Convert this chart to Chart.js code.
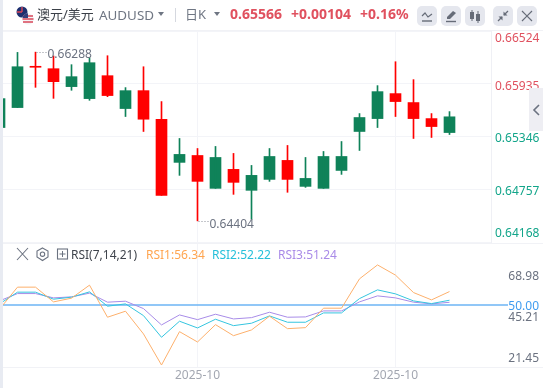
<!DOCTYPE html>
<html lang="zh">
<head>
    <meta charset="UTF-8">
    <title>AUDUSD</title>
    <script src="https://cdn.jsdelivr.net/npm/chart.js@4"></script>
    <style>
        html, body { margin: 0; padding: 0; background: #fff; overflow: hidden; }
        body { width: 543px; height: 388px; position: relative; font-family: "Noto Sans", "Noto Sans CJK SC", sans-serif; }
        canvas { position: absolute; left: 0; }
        .strip { position: absolute; left: 0; top: 0; width: 3px; height: 388px; background: #e8ebf2; z-index: 3; }
        .rule { position: absolute; left: 3px; right: 0; height: 1px; background: #f1f2f6; }
        .txt { position: absolute; white-space: nowrap; line-height: 16px; }
        .btn { position: absolute; top: 6px; width: 20px; height: 20px; border-radius: 5px; background: #e5e7ee; }
        .tab { position: absolute; left: 529px; top: 88px; width: 14px; height: 43px; background: #eeeef3; }
    </style>
</head>
<body>
<canvas id="kline" width="543" height="243" style="top:0;width:543px;height:243px"></canvas>
<canvas id="rsi" width="543" height="145" style="top:243px;width:543px;height:145px"></canvas>
<div class="strip"></div>
<div class="rule" style="top:30px"></div>
<div class="rule" style="top:243px"></div>
<div class="rule" style="top:367px"></div>
<div class="tab"></div>
<svg style="position:absolute;left:532px;top:103px" width="9" height="14"><path d="M7 2 L2 7 L7 12" fill="none" stroke="#6b7280" stroke-width="1.6"/></svg>

<svg style="position:absolute;left:15px;top:5px" width="20" height="20" viewBox="0 0 20 20">
    <circle cx="7" cy="7" r="5.5" fill="#1d2f6f"/>
    <path d="M2 7 L7 7 M7 2 L7 7" stroke="#d9475a" stroke-width="1.4"/>
    <circle cx="13" cy="14" r="5.8" fill="#f4f4f6"/>
    <path d="M8 11 H18 M7.5 14 H18.5 M8 17 H18" stroke="#d9475a" stroke-width="1.5"/>
    <path d="M7.5 13 A5.8 5.8 0 0 1 13 8.2 V13 Z" fill="#34407c"/>
</svg>
<div class="txt" style="left:37px;top:6px;font-size:13px;color:#3b4048">澳元/美元</div>
<div class="txt" style="left:99px;top:7px;font-size:13.4px;color:#6f7683">AUDUSD</div>
<svg style="position:absolute;left:158px;top:12px" width="7" height="5"><path d="M0 0 H6 L3 4 Z" fill="#6f7683"/></svg>
<div style="position:absolute;left:175px;top:8px;width:1px;height:14px;background:#d5d8df"></div>
<div class="txt" style="left:185px;top:6px;font-size:13px;color:#6f7683">日K</div>
<svg style="position:absolute;left:214px;top:12px" width="7" height="5"><path d="M0 0 H6 L3 4 Z" fill="#6f7683"/></svg>
<div class="txt" style="left:230px;top:6px;font-size:14px;font-weight:700;color:#e0515f">0.65566</div>
<div class="txt" style="left:291px;top:6px;font-size:14px;font-weight:700;color:#e0515f">+0.00104</div>
<div class="txt" style="left:360px;top:6px;font-size:14px;font-weight:700;color:#e0515f">+0.16%</div>

<div class="btn" style="left:417px"><svg width="20" height="20"><path d="M5 10 L8 7 L11 11 L15 8" fill="none" stroke="#666c78" stroke-width="1.2"/><path d="M5 15 H15" stroke="#666c78" stroke-width="1.4"/></svg></div>
<div class="btn" style="left:441px"><svg width="20" height="20"><path d="M6 13 L6 11 L12 5 L15 7 L9 13 Z" fill="#666c78"/><path d="M5 15.5 H15" stroke="#666c78" stroke-width="1.4"/></svg></div>
<div class="btn" style="left:465px"><svg width="20" height="20"><rect x="5" y="6" width="4" height="7" fill="#666c78"/><path d="M7 4 V15 M13 5 V17" stroke="#666c78"/><rect x="11" y="8" width="4" height="7" fill="#666c78"/></svg></div>
<div class="btn" style="left:493px"><svg width="20" height="20"><path d="M15 5 L11 9 M5 15 L9 11" stroke="#666c78" stroke-width="1.3"/><path d="M10.5 5.5 V9.5 H14.5 Z M9.5 14.5 V10.5 H5.5 Z" fill="#666c78"/></svg></div>
<div class="btn" style="left:517px"><svg width="20" height="20"><path d="M5 5 L15 15 M15 5 L5 15" stroke="#666c78" stroke-width="1.2"/></svg></div>

<svg style="position:absolute;left:16px;top:247px" width="54" height="15" fill="none" stroke="#6b7280">
    <path d="M1 1 L12 13 M12 1 L1 13" stroke-width="1.1"/>
    <path d="M26.5 1 L32 4 V10 L26.5 13.5 L21 10 V4 Z" stroke-width="1.1"/>
    <circle cx="26.5" cy="7.2" r="2.2" stroke-width="1.1"/>
    <rect x="41.5" y="2" width="10" height="10" stroke-width="1.1"/>
    <path d="M46.5 4 V10 M43.5 7 H49.5"/>
</svg>
<div class="txt" style="left:71px;top:247px;font-size:12px;color:#3f444c">RSI(7,14,21)</div>
<div class="txt" style="left:146px;top:247px;font-size:12px;color:#ffa550">RSI1:56.34</div>
<div class="txt" style="left:212px;top:247px;font-size:12px;color:#26c0da">RSI2:52.22</div>
<div class="txt" style="left:278px;top:247px;font-size:12px;color:#a98be8">RSI3:51.24</div>

<script>
    const opens = [0.65446, 0.65669, 0.66125, 0.66103, 0.65903, 0.65769, 0.66025, 0.65658, 0.65858, 0.65539, 0.65057, 0.65134, 0.64767,
        0.64979, 0.64745, 0.64867, 0.65079, 0.64789, 0.64767, 0.64967, 0.65402, 0.65546, 0.65825, 0.65725, 0.65546, 0.65390];
    const closes = [0.65769, 0.66125, 0.66119, 0.65958, 0.66014, 0.66170, 0.65803, 0.65858, 0.65539, 0.64689, 0.65146, 0.64845, 0.65112,
        0.64834, 0.64912, 0.65123, 0.64867, 0.64878, 0.65123, 0.65123, 0.65558, 0.65847, 0.65736, 0.65546, 0.65457, 0.65566];
    const highs = [0.65769, 0.66285, 0.66288, 0.66245, 0.66148, 0.66222, 0.66248, 0.65892, 0.66125, 0.65736, 0.65324, 0.65212, 0.65235,
        0.65157, 0.65023, 0.65212, 0.65246, 0.65112, 0.65179, 0.65290, 0.65602, 0.65914, 0.66181, 0.65981, 0.65602, 0.65624];
    const lows = [0.65446, 0.65669, 0.65895, 0.65772, 0.65862, 0.65750, 0.65791, 0.65569, 0.65402, 0.64689, 0.64912, 0.64404, 0.64767,
        0.64700, 0.64422, 0.64845, 0.64723, 0.64778, 0.64767, 0.64923, 0.65190, 0.65446, 0.65569, 0.65324, 0.65335, 0.65368];

    const rsi1 = [47.95, 58.43, 58.43, 51.43, 53.19, 59.38, 44.14, 47.00, 36.19, 21.45, 37.29, 32.38, 40.62,
        35.38, 38.10, 44.62, 38.71, 39.19, 48.43, 48.43, 62.38, 68.98, 64.14, 55.86, 52.38, 56.34];
    const rsi2 = [50.48, 56.05, 56.05, 52.71, 53.67, 56.19, 49.38, 50.48, 44.90, 34.62, 42.24, 39.05, 43.19,
        40.14, 41.29, 44.76, 41.76, 41.76, 46.19, 46.19, 53.00, 57.14, 55.24, 51.90, 50.62, 52.22];
    const rsi3 = [51.90, 55.38, 55.38, 53.33, 53.81, 55.57, 51.29, 51.76, 48.24, 40.48, 45.24, 43.00, 45.57,
        43.33, 43.95, 46.52, 44.14, 44.29, 47.14, 47.14, 51.43, 54.29, 53.33, 51.29, 50.48, 51.24];

    const priceTicks = [0.66524, 0.65935, 0.65346, 0.64757, 0.64168];
    const rsiTicks = [68.98, 50.00, 45.21, 21.45];
    const rsiLevel = 50.00;
    const monthTicks = [11, 22];
    const monthLabel = '2025-10';
    const highMark = {index: 2, value: 0.66288};
    const lowMark = {index: 11, value: 0.64404};

    const GREEN = '#0f8259', RED = '#ff0000';
    const GRID = '#f3f4f8';
    const FONT = '12px "Noto Sans", sans-serif';
    const slot = 18;                         // px per candle
    const xMin = 3.5 / slot, xMax = 491.5 / slot;
    const candleColors = opens.map((o, i) => closes[i] >= o ? GREEN : RED);

    function text(ctx, str, x, y, color, align) {
        ctx.save();
        ctx.font = FONT;
        ctx.fillStyle = color;
        ctx.textAlign = align || 'left';
        ctx.textBaseline = 'middle';
        ctx.fillText(str, x, y);
        ctx.restore();
    }

    function mark(chart, m, textShift) {
        const x = chart.scales.x.getPixelForValue(m.index);
        const y = chart.scales.y.getPixelForValue(m.value);
        const ctx = chart.ctx;
        ctx.save();
        ctx.strokeStyle = '#8a8f99';
        ctx.setLineDash([1, 2]);
        ctx.beginPath();
        ctx.moveTo(x + 1, Math.round(y) + 0.5);
        ctx.lineTo(x + 11, Math.round(y) + 0.5);
        ctx.stroke();
        ctx.restore();
        text(ctx, m.value.toFixed(5), x + 12, y + textShift, '#6b7280');
    }

    const priceAxisPlugin = {
        id: 'priceAxis',
        afterDraw(chart) {
            const s = chart.scales.y;
            priceTicks.forEach((v, i) => {
                // the first and last label sit inside the pane
                const shift = i === 0 ? 8 : i === priceTicks.length - 1 ? -8 : 2.5;
                const color = i < 2 ? '#e0515f' : '#12a58a';
                text(chart.ctx, v.toFixed(5), 495, s.getPixelForValue(v) + shift, color);
            });
            mark(chart, highMark, 2.5);
            mark(chart, lowMark, 4);
        }
    };

    const rsiAxisPlugin = {
        id: 'rsiAxis',
        afterDraw(chart) {
            const s = chart.scales.y;
            const shifts = [12, 1.5, 3, -6];
            rsiTicks.forEach((v, i) => {
                const color = v === rsiLevel ? '#3f9cf0' : '#6b7280';
                text(chart.ctx, v.toFixed(2), 539, s.getPixelForValue(v) + shifts[i], color, 'right');
            });
        }
    };

    function timeAxis(showLabels) {
        return {
            type: 'linear',
            min: xMin,
            max: xMax,
            offset: false,
            afterBuildTicks: axis => { axis.ticks = monthTicks.map(v => ({value: v})); },
            afterFit: axis => { axis.height = showLabels ? 21 : 0; },
            grid: {color: GRID, drawTicks: false, offset: false},
            border: {display: false},
            ticks: {
                display: showLabels,
                autoSkip: false,
                maxRotation: 0,
                padding: 1,
                color: '#a3a7b1',
                font: {family: '"Noto Sans", sans-serif', size: 12},
                callback: () => monthLabel
            }
        };
    }

    new Chart('kline', {
        type: 'bar',
        data: {
            datasets: [
                {
                    data: lows.map((l, i) => ({x: i, y: [l, highs[i]]})),
                    backgroundColor: candleColors,
                    barThickness: 1,
                    grouped: false,
                    borderWidth: 0
                },
                {
                    data: opens.map((o, i) => ({x: i, y: [o, closes[i]]})),
                    backgroundColor: candleColors,
                    barThickness: 11,
                    minBarLength: 1,
                    grouped: false,
                    borderWidth: 0
                }
            ]
        },
        options: {
            responsive: false,
            animation: false,
            layout: {padding: {left: 3, top: 31, right: 52, bottom: 1}},
            plugins: {legend: {display: false}, tooltip: {enabled: false}},
            scales: {
                x: timeAxis(false),
                y: {
                    position: 'right',
                    min: priceTicks[priceTicks.length - 1],
                    max: priceTicks[0],
                    afterBuildTicks: axis => { axis.ticks = priceTicks.map(v => ({value: v})); },
                    afterFit: axis => { axis.width = 0; },
                    grid: {color: GRID, drawTicks: false},
                    border: {display: true, color: '#eff0f5'},
                    ticks: {display: false}
                }
            }
        },
        plugins: [priceAxisPlugin]
    });

    function rsiLine(values, color) {
        return {
            data: values.map((v, i) => ({x: i, y: v})),
            borderColor: color,
            borderWidth: 1,
            pointRadius: 0,
            tension: 0
        };
    }

    new Chart('rsi', {
        type: 'line',
        data: {
            datasets: [
                rsiLine(rsi1, '#fdb06c'),
                rsiLine(rsi2, '#35c5df'),
                rsiLine(rsi3, '#a88ce8'),
                {
                    // runs on past the pane, up to the 50.00 label
                    data: [{x: xMin, y: rsiLevel}, {x: 508.5 / slot, y: rsiLevel}],
                    borderColor: '#6db5f5',
                    borderWidth: 1.5,
                    pointRadius: 0,
                    clip: false
                }
            ]
        },
        options: {
            responsive: false,
            animation: false,
            layout: {padding: {left: 3, top: 0, right: 52, bottom: 0}},
            plugins: {legend: {display: false}, tooltip: {enabled: false}},
            scales: {
                x: timeAxis(true),
                y: {
                    position: 'right',
                    min: 20.5,
                    max: 79.4,
                    afterBuildTicks: axis => { axis.ticks = []; },
                    afterFit: axis => { axis.width = 0; },
                    grid: {display: false},
                    border: {display: false},
                    ticks: {display: false}
                }
            }
        },
        plugins: [rsiAxisPlugin]
    });
</script>
</body>
</html>
